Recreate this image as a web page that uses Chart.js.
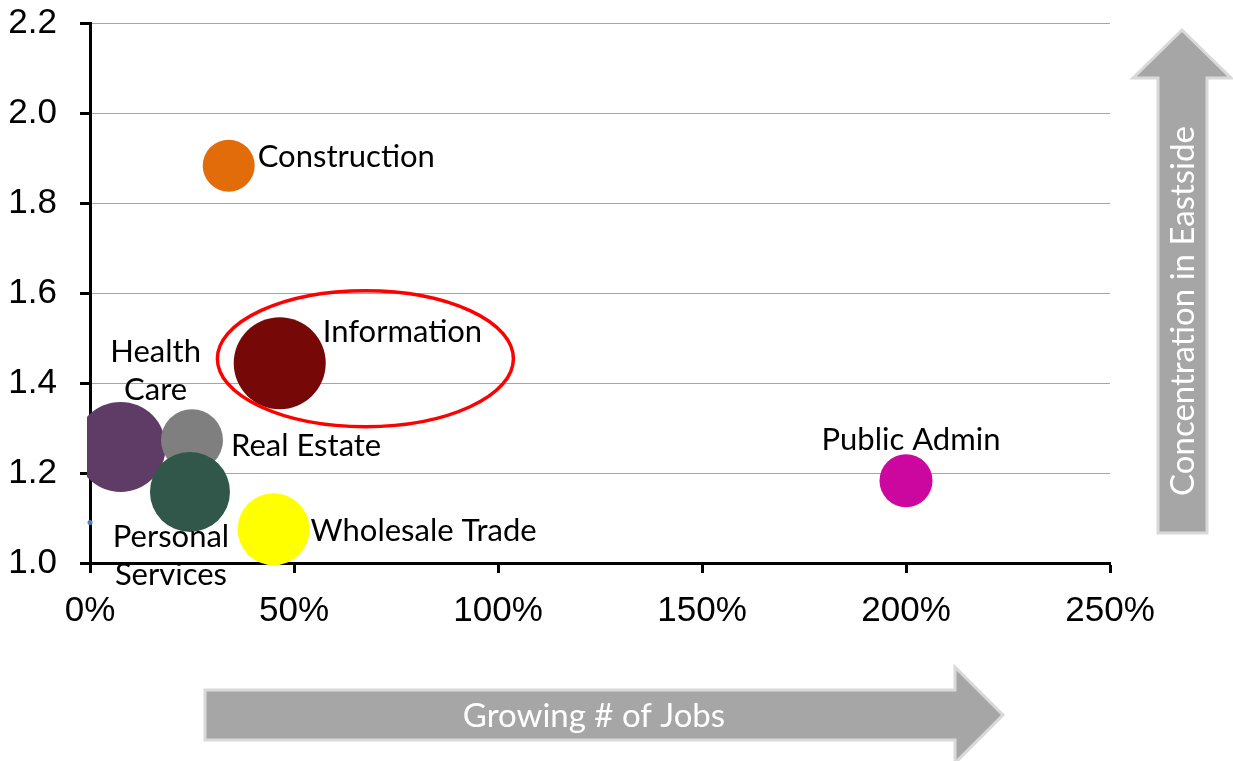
<!DOCTYPE html>
<html>
<head>
<meta charset="utf-8">
<script src="https://cdn.jsdelivr.net/npm/chart.js@4.4.0/dist/chart.umd.min.js"></script>
<style>
  html, body { margin: 0; padding: 0; background: #fff; }
</style>
</head>
<body>
<canvas id="myChart" width="1233" height="761"></canvas>
<script>
// industries, job growth (%), concentration (location quotient), bubble size
var industries = [["Construction"], ["Information"], ["Health", "Care"], ["Real Estate"], ["Personal", "Services"], ["Wholesale Trade"], ["Public Admin"], [""]];
var jobGrowth = [34, 46.5, 7.5, 25, 24.5, 45, 200, 0];
var concentration = [1.883, 1.444, 1.258, 1.273, 1.158, 1.075, 1.183, 1.09];
var bubbleSize = [26, 46, 45, 31, 40, 36, 26.5, 2.5];
var xTicks = [0, 50, 100, 150, 200, 250];
var yTicks = [1.0, 1.2, 1.4, 1.6, 1.8, 2.0, 2.2];

var colors = ["#e36c0a", "#760808", "#5f3c66", "#7f7f7f", "#30574a", "#ffff00", "#cc079f", "#4f81bd"];
// label placement relative to bubble centre: dx, dy, align
var labelPos = [
  [29, -9, "left"], [43, -31, "left"], [35, -95, "center"], [39, 6, "left"],
  [-19, 45, "center"], [37, 2, "left"], [5, -41, "center"], [0, 0, "left"]
];
var labelFont = "31px Lato";

var points = jobGrowth.map(function (v, i) {
  return {x: v, y: concentration[i], r: bubbleSize[i]};
});

// the labels next to each bubble
var bubbleLabels = {
  id: "bubbleLabels",
  afterDatasetsDraw: function (chart) {
    var c = chart.ctx;
    var meta = chart.getDatasetMeta(0);
    c.save();
    c.font = labelFont;
    c.fillStyle = "#000";
    c.textBaseline = "middle";
    meta.data.forEach(function (pt, i) {
      var p = labelPos[i];
      c.textAlign = p[2];
      industries[i].forEach(function (line, k) {
        c.fillText(line, pt.x + p[0], pt.y + p[1] + k * 38);
      });
    });
    // red ring round Information
    var xs = chart.scales.x, ys = chart.scales.y;
    c.beginPath();
    c.ellipse(xs.getPixelForValue(67.5), ys.getPixelForValue(1.454), 148, 68, 0, 0, Math.PI * 2);
    c.strokeStyle = "#ff0000";
    c.lineWidth = 3.5;
    c.stroke();
    c.restore();
  }
};

// the two grey arrows
function arrowShape(c, pts) {
  c.beginPath();
  c.moveTo(pts[0][0], pts[0][1]);
  for (var i = 1; i < pts.length; i++) c.lineTo(pts[i][0], pts[i][1]);
  c.closePath();
  c.fillStyle = "#a6a6a6";
  c.fill();
  c.strokeStyle = "#d9d9d9";
  c.lineWidth = 3;
  c.stroke();
}
var arrows = {
  id: "arrows",
  afterDraw: function (chart) {
    var c = chart.ctx;
    c.save();
    arrowShape(c, [[205, 690], [955, 690], [955, 667], [1003, 715], [955, 763], [955, 740], [205, 740]]);
    arrowShape(c, [[1158, 533], [1158, 78], [1133, 78], [1182, 30], [1231, 78], [1207, 78], [1207, 533]]);
    c.fillStyle = "#fff";
    c.font = "33px Lato";
    c.textAlign = "center";
    c.textBaseline = "middle";
    c.fillText("Growing # of Jobs", 594, 716);
    c.translate(1183, 311);
    c.rotate(-Math.PI / 2);
    c.fillText("Concentration in Eastside", 0, 0);
    c.restore();
  }
};

var ctx = document.getElementById("myChart");
var myChart = new Chart(ctx, {
  type: "bubble",
  data: {
    datasets: [{
      data: points,
      backgroundColor: colors,
      borderWidth: 0,
      clip: 3
    }]
  },
  options: {
    responsive: false,
    animation: false,
    layout: {autoPadding: false, padding: {top: 23, right: 123, left: 0, bottom: 0}},
    plugins: {legend: {display: false}, tooltip: {enabled: false}},
    scales: {
      x: {
        type: "linear",
        min: 0,
        max: 250,
        afterBuildTicks: function (s) { s.ticks = xTicks.map(function (v) { return {value: v}; }); },
        afterFit: function (s) { s.height = 198; },
        grid: {drawOnChartArea: false, tickLength: 10, tickColor: "#000", tickWidth: 3},
        border: {color: "#000", width: 3},
        ticks: {
          color: "#000",
          padding: 17,
          font: {family: "Liberation Sans", size: 35},
          callback: function (v) { return v + "%"; }
        }
      },
      y: {
        type: "linear",
        min: 1,
        max: 2.2,
        afterBuildTicks: function (s) { s.ticks = yTicks.map(function (v) { return {value: v}; }); },
        afterFit: function (s) { s.width = 90; s.paddingTop = 0; s.paddingBottom = 0; },
        grid: {color: "#a6a6a6", lineWidth: 1, tickLength: 10, tickColor: "#000", tickWidth: 3},
        border: {color: "#000", width: 3},
        ticks: {
          color: "#000",
          padding: 23,
          font: {family: "Liberation Sans", size: 35},
          callback: function (v) { return v.toFixed(1); }
        }
      }
    }
  },
  plugins: [bubbleLabels, arrows]
});
</script>
</body>
</html>
